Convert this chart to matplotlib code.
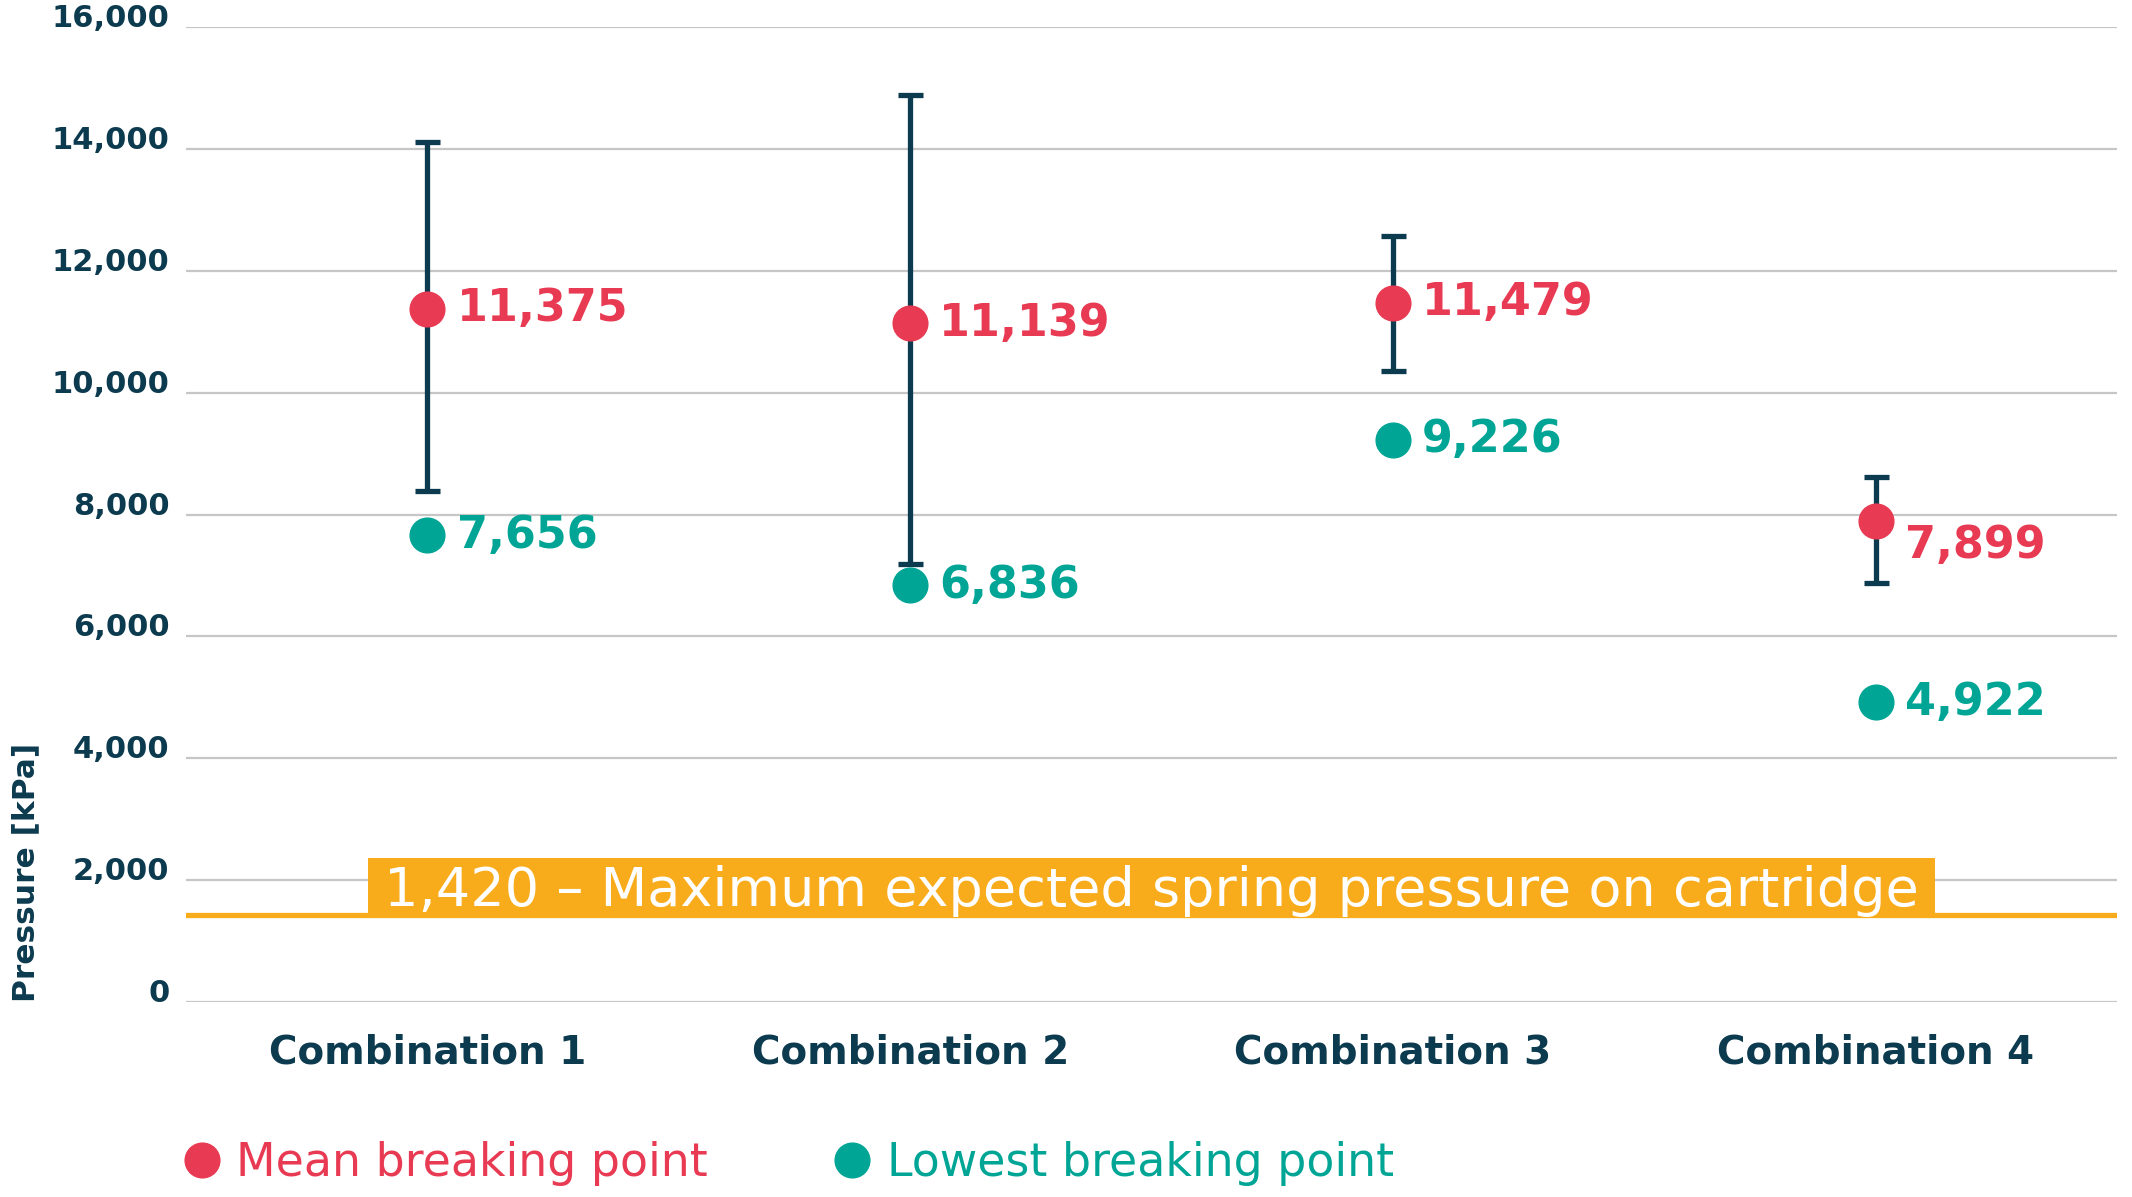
import matplotlib
matplotlib.use("Agg")
import matplotlib.pyplot as plt
import matplotlib.transforms as mtransforms
from matplotlib.lines import Line2D
from matplotlib.path import Path

# ---- data ----
categories = ["Combination 1", "Combination 2", "Combination 3", "Combination 4"]
mean_break = [11375, 11139, 11479, 7899]
lowest_break = [7656, 6836, 9226, 4922]
err_upper = [14110, 14890, 12580, 8610]   # top of whisker
err_lower = [8390, 7190, 10360, 6870]     # bottom of whisker
threshold = 1420
threshold_label = "1,420 – Maximum expected spring pressure on cartridge"
legend_labels = ["Mean breaking point", "Lowest breaking point"]
y_label = "Pressure [kPa]"
y_ticks = [0, 2000, 4000, 6000, 8000, 10000, 12000, 14000, 16000]
y_tick_labels = ["0", "2,000", "4,000", "6,000", "8,000", "10,000", "12,000", "14,000", "16,000"]

# ---- style ----
RED = "#e83a52"
TEAL = "#00a595"
NAVY = "#0c3a4e"
ORANGE = "#f8ac1c"
GRID = "#c6c6c6"
plt.rcParams["font.family"] = ["DejaVu Sans"]

fig = plt.figure(figsize=(21.32, 11.97), dpi=100)
ax = fig.add_axes([0.0873, 0.163, 0.9057, 0.8143])

x = list(range(len(categories)))

ax.set_xlim(-0.5, 3.5)
ax.set_ylim(0, 16000)
ax.set_yticks(y_ticks)
ax.set_yticklabels(y_tick_labels, fontsize=22, color=NAVY, fontweight="bold", va="baseline")
ax.grid(axis="y", color=GRID, linewidth=1.6, zorder=0)
ax.set_axisbelow(True)
for s in ax.spines.values():
    s.set_visible(False)
ax.tick_params(axis="y", length=0, pad=12)
ax.set_xticks(x)
ax.set_xticklabels(categories, fontsize=28, color=NAVY, fontweight="bold")
ax.tick_params(axis="x", length=0, pad=23)

ax.set_ylabel(y_label, loc="bottom", fontsize=22.5, color=NAVY, fontweight="bold",
              labelpad=8)


# box with separate horizontal / vertical padding (in units of font size)
def label_box(x0, y0, width, height, mutation_size):
    px, pt, pb = 0.3 * mutation_size, 0.14 * mutation_size, 0.0
    xa, xb = x0 - px, x0 + width + px
    ya, yb = y0 - pb, y0 + height + pt
    return Path([(xa, ya), (xb, ya), (xb, yb), (xa, yb), (xa, ya)],
                [Path.MOVETO, Path.LINETO, Path.LINETO, Path.LINETO, Path.CLOSEPOLY])


# threshold line and label
lw_thr = 3.8
ax.axhline(threshold, color=ORANGE, linewidth=lw_thr, zorder=3)
fs_band = 39
trans = mtransforms.offset_copy(ax.transData, fig=fig, y=-lw_thr / 2 + 0.5, units="points")
ax.text(1.5, threshold, threshold_label, transform=trans, ha="center", va="bottom",
        fontsize=fs_band, color="white", zorder=4,
        bbox=dict(boxstyle=label_box, fc=ORANGE, ec="none"))

# error bars (asymmetric, from whisker ends)
yerr = [[m - lo for m, lo in zip(mean_break, err_lower)],
        [hi - m for m, hi in zip(mean_break, err_upper)]]
ax.errorbar(x, mean_break, yerr=yerr, fmt="none", ecolor=NAVY, elinewidth=3.8,
            capsize=9, capthick=3.8, zorder=4)

# points
ax.plot(x, mean_break, "o", color=RED, markersize=25, linestyle="none", zorder=5)
ax.plot(x, lowest_break, "o", color=TEAL, markersize=25, linestyle="none", zorder=5)

# value labels
fs_val = 32
mean_dy = [0, 0, 0, -18]
for xi, v, dy in zip(x, mean_break, mean_dy):
    ax.annotate(f"{v:,}", (xi, v), xytext=(21, dy), textcoords="offset points",
                ha="left", va="center", fontsize=fs_val, color=RED, fontweight="bold",
                zorder=6)
for xi, v in zip(x, lowest_break):
    ax.annotate(f"{v:,}", (xi, v), xytext=(21, 0), textcoords="offset points",
                ha="left", va="center", fontsize=fs_val, color=TEAL, fontweight="bold",
                zorder=6)

# legend
handles = [Line2D([], [], marker="o", color=RED, linestyle="none", markersize=25),
           Line2D([], [], marker="o", color=TEAL, linestyle="none", markersize=25)]
leg = fig.legend(handles, legend_labels, loc="center left", bbox_to_anchor=(0.086, 0.028),
                 ncol=2, frameon=False, fontsize=33, handlelength=0.8, handletextpad=0.35,
                 columnspacing=2.75, borderaxespad=0, borderpad=0)
for t, c in zip(leg.get_texts(), [RED, TEAL]):
    t.set_color(c)

fig.savefig("out.png", dpi=100, facecolor="white")
